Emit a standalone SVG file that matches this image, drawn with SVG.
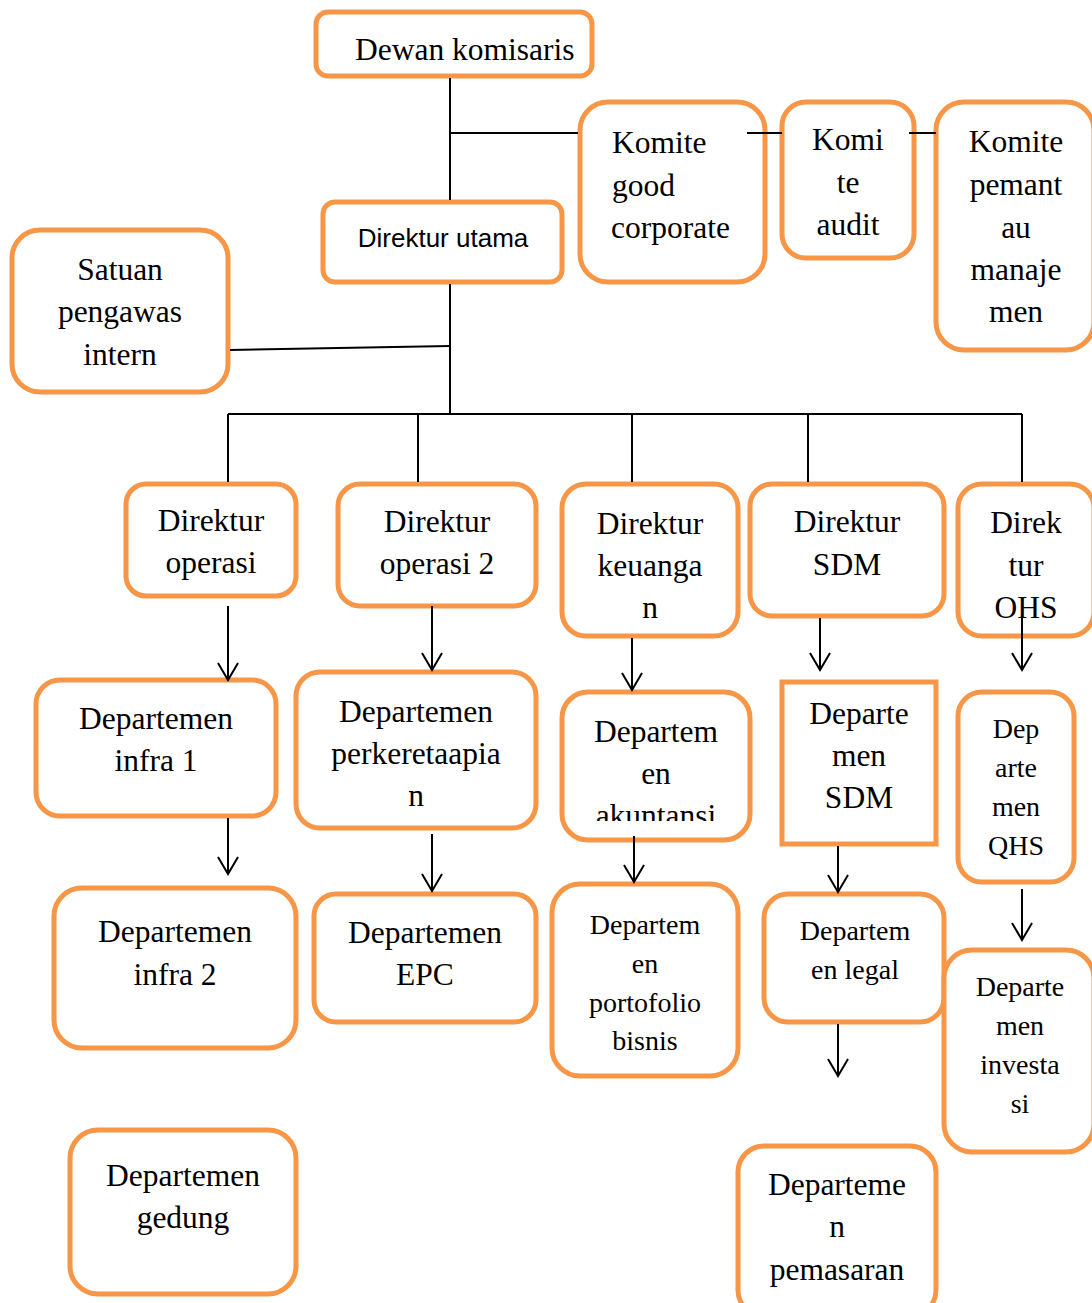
<svg xmlns="http://www.w3.org/2000/svg" width="1092" height="1303" viewBox="0 0 1092 1303">
<style>
.box{fill:#fff;stroke:#F79646;stroke-width:5}
.t{font-family:"Liberation Serif","Times New Roman",serif;font-size:31.5px;fill:#000;text-anchor:middle}
.s{font-size:28px}
.l{text-anchor:start}
.sans{font-family:"Liberation Sans",Arial,sans-serif;font-size:26px;fill:#000;text-anchor:middle}
.c{fill:none;stroke:#000;stroke-width:2}
</style>
<defs>
<marker id="arr" viewBox="-18 -12 20 24" markerWidth="20" markerHeight="24" refX="0" refY="0" orient="auto" markerUnits="userSpaceOnUse">
<path d="M-17,-10 L0,0 L-17,10" fill="none" stroke="#000" stroke-width="2"/>
</marker>
<clipPath id="clipAk"><rect x="560" y="690" width="192" height="131"/></clipPath>
</defs>

<g id="dewan-komisaris">
<rect class="box" x="316" y="12" width="276" height="64" rx="12"/>
<text class="t l" x="355" y="60">Dewan komisaris</text>
</g>

<g id="komite-gc">
<rect class="box" x="580" y="102" width="185" height="180" rx="28"/>
<text class="t l" x="612" y="153">Komite</text>
<text class="t l" x="612" y="196">good</text>
<text class="t l" x="611" y="238">corporate</text>
</g>

<g id="komite-audit">
<rect class="box" x="782" y="102" width="132" height="156" rx="24"/>
<text class="t" x="848" y="150">Komi</text>
<text class="t" x="848" y="193">te</text>
<text class="t" x="848" y="235">audit</text>
</g>

<g id="komite-pemantau">
<rect class="box" x="936" y="102" width="158" height="248" rx="28"/>
<text class="t" x="1016" y="152">Komite</text>
<text class="t" x="1016" y="195">pemant</text>
<text class="t" x="1016" y="238">au</text>
<text class="t" x="1016" y="280">manaje</text>
<text class="t" x="1016" y="322">men</text>
</g>

<g id="direktur-utama">
<rect class="box" x="323" y="202" width="239" height="80" rx="12"/>
<text class="sans" x="443" y="247">Direktur utama</text>
</g>

<g id="satuan-pengawas">
<rect class="box" x="12" y="230" width="216" height="162" rx="28"/>
<text class="t" x="120" y="280">Satuan</text>
<text class="t" x="120" y="322">pengawas</text>
<text class="t" x="120" y="365">intern</text>
</g>

<g id="dir-operasi">
<rect class="box" x="126" y="484" width="170" height="112" rx="20"/>
<text class="t" x="211" y="531">Direktur</text>
<text class="t" x="211" y="573">operasi</text>
</g>

<g id="dir-operasi2">
<rect class="box" x="338" y="484" width="198" height="122" rx="22"/>
<text class="t" x="437" y="532">Direktur</text>
<text class="t" x="437" y="574">operasi 2</text>
</g>

<g id="dir-keuangan">
<rect class="box" x="562" y="484" width="176" height="152" rx="24"/>
<text class="t" x="650" y="534">Direktur</text>
<text class="t" x="650" y="576">keuanga</text>
<text class="t" x="650" y="618">n</text>
</g>

<g id="dir-sdm">
<rect class="box" x="750" y="484" width="194" height="132" rx="22"/>
<text class="t" x="847" y="532">Direktur</text>
<text class="t" x="847" y="575">SDM</text>
</g>

<g id="dir-ohs">
<rect class="box" x="958" y="484" width="136" height="152" rx="24"/>
<text class="t" x="1026" y="533">Direk</text>
<text class="t" x="1026" y="576">tur</text>
<text class="t" x="1026" y="618">OHS</text>
</g>

<g id="dept-infra1">
<rect class="box" x="36" y="680" width="240" height="136" rx="24"/>
<text class="t" x="156" y="729">Departemen</text>
<text class="t" x="156" y="771">infra 1</text>
</g>

<g id="dept-kereta">
<rect class="box" x="296" y="672" width="240" height="156" rx="24"/>
<text class="t" x="416" y="722">Departemen</text>
<text class="t" x="416" y="764">perkeretaapia</text>
<text class="t" x="416" y="806">n</text>
</g>

<g id="dept-akuntansi">
<rect class="box" x="562" y="692" width="188" height="148" rx="26"/>
<text class="t" x="656" y="742">Departem</text>
<text class="t" x="656" y="784">en</text>
<text class="t" x="656" y="826" clip-path="url(#clipAk)">akuntansi</text>
</g>

<g id="dept-sdm">
<rect class="box" x="782" y="682" width="154" height="162"/>
<text class="t" x="859" y="724">Departe</text>
<text class="t" x="859" y="766">men</text>
<text class="t" x="859" y="808">SDM</text>
</g>

<g id="dept-qhs">
<rect class="box" x="958" y="692" width="116" height="190" rx="24"/>
<text class="t s" x="1016" y="738">Dep</text>
<text class="t s" x="1016" y="777">arte</text>
<text class="t s" x="1016" y="816">men</text>
<text class="t s" x="1016" y="855">QHS</text>
</g>

<g id="dept-infra2">
<rect class="box" x="54" y="888" width="242" height="160" rx="28"/>
<text class="t" x="175" y="942">Departemen</text>
<text class="t" x="175" y="985">infra 2</text>
</g>

<g id="dept-epc">
<rect class="box" x="314" y="894" width="222" height="128" rx="22"/>
<text class="t" x="425" y="943">Departemen</text>
<text class="t" x="425" y="985">EPC</text>
</g>

<g id="dept-portofolio">
<rect class="box" x="552" y="884" width="186" height="192" rx="28"/>
<text class="t s" x="645" y="934">Departem</text>
<text class="t s" x="645" y="973">en</text>
<text class="t s" x="645" y="1012">portofolio</text>
<text class="t s" x="645" y="1050">bisnis</text>
</g>

<g id="dept-legal">
<rect class="box" x="764" y="894" width="180" height="128" rx="24"/>
<text class="t s" x="855" y="940">Departem</text>
<text class="t s" x="855" y="979">en legal</text>
</g>

<g id="dept-investasi">
<rect class="box" x="944" y="950" width="150" height="202" rx="28"/>
<text class="t s" x="1020" y="996">Departe</text>
<text class="t s" x="1020" y="1035">men</text>
<text class="t s" x="1020" y="1074">investa</text>
<text class="t s" x="1020" y="1113">si</text>
</g>

<g id="dept-gedung">
<rect class="box" x="70" y="1130" width="226" height="164" rx="28"/>
<text class="t" x="183" y="1186">Departemen</text>
<text class="t" x="183" y="1228">gedung</text>
</g>

<g id="dept-pemasaran">
<rect class="box" x="738" y="1146" width="198" height="170" rx="26"/>
<text class="t" x="837" y="1195">Departeme</text>
<text class="t" x="837" y="1237">n</text>
<text class="t" x="837" y="1280">pemasaran</text>
</g>

<g id="connectors">
<path class="c" d="M450,78 V200"/>
<path class="c" d="M450,133 H578"/>
<path class="c" d="M747,133 H782"/>
<path class="c" d="M909,133 H936"/>
<path class="c" d="M450,284 V414"/>
<path class="c" d="M230,350 L450,346"/>
<path class="c" d="M228,414 H1022"/>
<path class="c" d="M228,414 V482 M418,414 V482 M632,414 V482 M808,414 V482 M1022,414 V482"/>
<path class="c" d="M228,606 V680" marker-end="url(#arr)"/>
<path class="c" d="M432,606 V670" marker-end="url(#arr)"/>
<path class="c" d="M632,638 V690" marker-end="url(#arr)"/>
<path class="c" d="M820,618 V670" marker-end="url(#arr)"/>
<path class="c" d="M1022,614 V670" marker-end="url(#arr)"/>
<path class="c" d="M228,818 V874" marker-end="url(#arr)"/>
<path class="c" d="M432,834 V891" marker-end="url(#arr)"/>
<path class="c" d="M634,836 V882" marker-end="url(#arr)"/>
<path class="c" d="M838,846 V892" marker-end="url(#arr)"/>
<path class="c" d="M1022,889 V940" marker-end="url(#arr)"/>
<path class="c" d="M838,1024 V1076" marker-end="url(#arr)"/>
</g>
</svg>
